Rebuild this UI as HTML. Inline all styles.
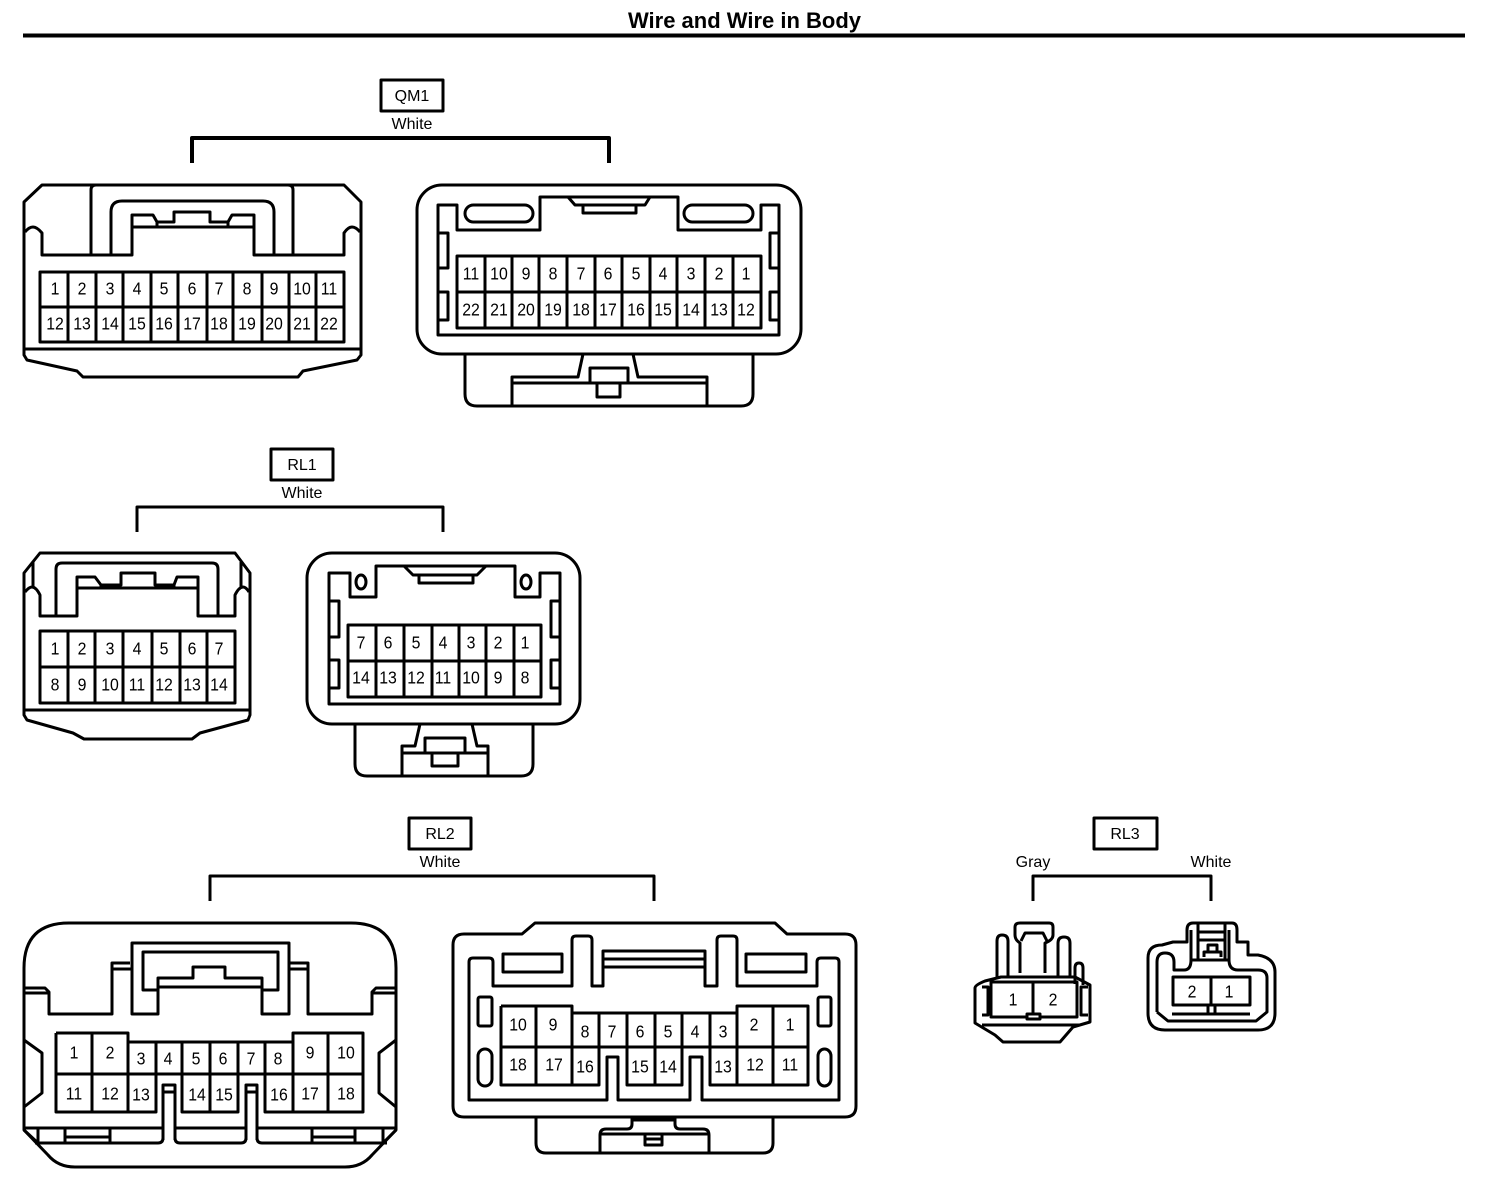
<!DOCTYPE html>
<html><head><meta charset="utf-8"><title>Wire and Wire in Body</title>
<style>
html,body{margin:0;padding:0;background:#fff}
svg{display:block}
path,rect,ellipse{fill:none;stroke:#000;stroke-width:3;stroke-linejoin:round}
text{font-family:"Liberation Sans",sans-serif;font-size:18px;fill:#000;text-anchor:middle;transform-box:fill-box;transform-origin:center;transform:translateY(.7px) scaleX(.88)}
.l{font-size:16px;transform:none}
.h{font-size:22px;font-weight:bold;transform:none}
</style></head><body>
<svg width="1504" height="1190" viewBox="0 0 1504 1190" xmlns="http://www.w3.org/2000/svg">
<text class="h" x="744.500" y="28">Wire and Wire in Body</text>
<path d="M23 35.500H1465" style="stroke-width:4"/>

<!-- labels -->
<rect x="381" y="80" width="62" height="31"/><text class="l" x="412" y="101">QM1</text><text class="l" x="412" y="129">White</text>
<path d="M192 163V138H609V163" style="stroke-width:4"/>
<rect x="271" y="449" width="62" height="31"/><text class="l" x="302" y="470">RL1</text><text class="l" x="302" y="498">White</text>
<path d="M137 532V507H443V532"/>
<rect x="409" y="818" width="62" height="31"/><text class="l" x="440" y="839">RL2</text><text class="l" x="440" y="867">White</text>
<path d="M210 901V876H654V901"/>
<rect x="1094" y="818" width="63" height="31"/><text class="l" x="1125" y="839">RL3</text><text class="l" x="1033" y="867">Gray</text><text class="l" x="1211" y="867">White</text>
<path d="M1033 901V876H1211V901"/>

<!-- QM1 left -->
<path d="M42 185H344L361 202V355L357 360L303 371L298 377H83L77 371L27 360L24 355V202Z"/>
<path d="M24 349H361"/>
<path d="M25 232Q29 227 33 227Q37 227 42 233V255H132V215H153L157 222H174V212H210V222H228L232 215H254V255H344V233Q348 227 352 227Q356 227 360 232"/>
<path d="M132 227H254M157 222V227M228 222V227"/>
<path d="M91 255V190Q91 185 96 185M293 255V190Q293 185 288 185"/>
<path d="M111 255V212Q111 201 122 201H263Q274 201 274 212V255"/>
<path d="M40 272H344V342H40ZM40 307H344M68 272V342M96 272V342M123 272V342M151 272V342M178 272V342M207 272V342M233 272V342M262 272V342M289 272V342M316 272V342"/>
<g>
<text x="55" y="294">1</text><text x="82" y="294">2</text><text x="110" y="294">3</text><text x="137" y="294">4</text><text x="164" y="294">5</text><text x="192" y="294">6</text><text x="219" y="294">7</text><text x="247" y="294">8</text><text x="274" y="294">9</text><text x="302" y="294">10</text><text x="329" y="294">11</text>
<text x="55" y="329">12</text><text x="82" y="329">13</text><text x="110" y="329">14</text><text x="137" y="329">15</text><text x="164" y="329">16</text><text x="192" y="329">17</text><text x="219" y="329">18</text><text x="247" y="329">19</text><text x="274" y="329">20</text><text x="302" y="329">21</text><text x="329" y="329">22</text>
</g>

<!-- QM1 right -->
<rect x="417" y="185" width="384" height="169" rx="25"/>
<path d="M465 354V394Q465 406 477 406H741Q753 406 753 394V354"/>
<path d="M438 205H457V230H540V197H678V230H761V205H779V335H438Z"/>
<rect x="465" y="205" width="68" height="17" rx="8.500"/><rect x="684" y="205" width="69" height="17" rx="8.500"/>
<path d="M568 197L575 205H645L650 197M583 205V213H636V205"/>
<path d="M438 233H448V268H438M438 292H448V320H438M779 233H770V268H779M779 292H770V320H779"/>
<path d="M457 256H761V328H457ZM457 292H761M485 256V328M512 256V328M539 256V328M567 256V328M595 256V328M622 256V328M650 256V328M677 256V328M705 256V328M733 256V328"/>
<g>
<text x="471" y="279">11</text><text x="499" y="279">10</text><text x="526" y="279">9</text><text x="553" y="279">8</text><text x="581" y="279">7</text><text x="608" y="279">6</text><text x="636" y="279">5</text><text x="663" y="279">4</text><text x="691" y="279">3</text><text x="719" y="279">2</text><text x="746" y="279">1</text>
<text x="471" y="315">22</text><text x="499" y="315">21</text><text x="526" y="315">20</text><text x="553" y="315">19</text><text x="581" y="315">18</text><text x="608" y="315">17</text><text x="636" y="315">16</text><text x="663" y="315">15</text><text x="691" y="315">14</text><text x="719" y="315">13</text><text x="746" y="315">12</text>
</g>
<path d="M512 406V377H578L583 354M633 354L638 377H707V406M512 383H590M628 383H707"/>
<path d="M590 368H628V383H590ZM597 383V397H620V383"/>

<!-- RL1 left -->
<path d="M40 553H235L250 573V715L248 720L200 733L192 739H84L73 733L27 720L24 715V573Z"/>
<path d="M24 710H250"/>
<path d="M25 592Q29 587 32 587Q36 587 40 595V616H77V577H95L101 585H121V573H155V585H174L177 577H198V616H235V595Q239 587 243 587Q246 587 249 592"/>
<path d="M77 588H198M101 585V588M174 585V588"/>
<path d="M56 616V569Q56 563 62 563H212Q218 563 218 569V616"/>
<path d="M33 587V562M241 587V562"/>
<path d="M40 631H235V703H40ZM40 667H235M68 631V703M95 631V703M123 631V703M152 631V703M180 631V703M207 631V703"/>
<g>
<text x="55" y="654">1</text><text x="82" y="654">2</text><text x="110" y="654">3</text><text x="137" y="654">4</text><text x="164" y="654">5</text><text x="192" y="654">6</text><text x="219" y="654">7</text>
<text x="55" y="690">8</text><text x="82" y="690">9</text><text x="110" y="690">10</text><text x="137" y="690">11</text><text x="164" y="690">12</text><text x="192" y="690">13</text><text x="219" y="690">14</text>
</g>

<!-- RL1 right -->
<rect x="307" y="553" width="273" height="171" rx="25"/>
<path d="M355 724V764Q355 776 367 776H521Q533 776 533 764V724"/>
<path d="M329 573H350V597H376V566H515V597H540V573H560V704H329Z"/>
<ellipse cx="361" cy="582" rx="5" ry="7"/><ellipse cx="526" cy="582" rx="5" ry="7"/>
<path d="M404 566L413 575H477L486 566M419 575V583H473V575"/>
<path d="M329 601H339V637H329M329 660H339V688H329M560 601H551V637H560M560 660H551V688H560"/>
<path d="M348 625H541V697H348ZM348 661H541M376 625V697M404 625V697M432 625V697M459 625V697M486 625V697M514 625V697"/>
<g>
<text x="361" y="648">7</text><text x="388" y="648">6</text><text x="416" y="648">5</text><text x="443" y="648">4</text><text x="471" y="648">3</text><text x="498" y="648">2</text><text x="525" y="648">1</text>
<text x="361" y="683">14</text><text x="388" y="683">13</text><text x="416" y="683">12</text><text x="443" y="683">11</text><text x="471" y="683">10</text><text x="498" y="683">9</text><text x="525" y="683">8</text>
</g>
<path d="M402 776V746H415L420 724M472 724L477 746H488V776M402 753H425M465 753H488"/>
<path d="M425 738H465V753H425ZM432 753V766H458V753"/>

<!-- RL2 left -->
<path d="M24 1130V968Q24 923 69 923H351Q396 923 396 968V1130L372 1155Q362 1167 345 1167H75Q58 1167 48 1155Z"/>
<path d="M24 988H45L49 992V1014H112V963H130M24 993H49M112 969H132"/>
<path d="M396 988H376L372 992V1014H308V963H290M396 993H372M308 969H289"/>
<path d="M132 1014V943H289V1014H262V978H225V967H193V978H158V1014Z"/>
<path d="M158 990H143V952H278V990H262M158 987H262"/>
<path d="M24 1040L42 1053V1093L24 1107M396 1040L379 1053V1093L396 1107"/>
<path d="M56 1033H128V1042H293V1033H363V1112H265V1074M56 1033V1112H156V1074M182 1074V1112H238V1074M56 1074H363M92 1033V1112M128 1033V1112M156 1042V1074M182 1042V1074M210 1042V1112M238 1042V1074M265 1042V1074M293 1033V1112M328 1033V1112"/>
<path d="M163 1140V1085H175V1140M246 1140V1085H257V1140M163 1092H175M246 1092H257"/>
<path d="M24 1128H163M175 1128H246M257 1128H396"/>
<path d="M35 1143H158Q163 1143 163 1138M175 1138Q175 1143 180 1143H241Q246 1143 246 1138M257 1138Q257 1143 262 1143H387"/>
<path d="M38 1128V1143M65 1128V1143M110 1128V1143M65 1137H110M312 1128V1143M355 1128V1143M312 1137H355M383 1128V1143M24 1130L38 1143M396 1130L383 1143"/>
<g>
<text x="74" y="1058">1</text><text x="110" y="1058">2</text><text x="141" y="1064">3</text><text x="168" y="1064">4</text><text x="196" y="1064">5</text><text x="223" y="1064">6</text><text x="251" y="1064">7</text><text x="278" y="1064">8</text><text x="310" y="1058">9</text><text x="346" y="1058">10</text>
<text x="74" y="1099">11</text><text x="110" y="1099">12</text><text x="141" y="1100">13</text><text x="197" y="1100">14</text><text x="224" y="1100">15</text><text x="279" y="1100">16</text><text x="310" y="1099">17</text><text x="346" y="1099">18</text>
</g>

<!-- RL2 right -->
<path d="M522 934L535 923H775L787 934H845Q856 934 856 945V1106Q856 1117 845 1117H464Q453 1117 453 1106V945Q453 934 464 934Z"/>
<path d="M536 1117V1143Q536 1153 546 1153H763Q773 1153 773 1143V1117"/>
<path d="M469 1100V962Q469 958 473 958H489Q493 958 493 962V986H572V940Q572 936 576 936H588Q592 936 592 940V986H603V951H705V986H717V940Q717 936 721 936H733Q737 936 737 940V986H817V962Q817 958 821 958H835Q839 958 839 962V1100H702V1057H690V1100H618V1057H607V1100Z"/>
<path d="M603 959H705M603 967H705"/>
<rect x="503" y="954" width="59" height="18"/><rect x="746" y="954" width="60" height="18"/>
<rect x="478" y="997" width="14" height="29" rx="2"/><rect x="818" y="997" width="13" height="29" rx="2"/>
<rect x="478" y="1049" width="14" height="37" rx="7"/><rect x="818" y="1049" width="13" height="37" rx="7"/>
<path d="M501 1006H572V1013H737V1006H808V1085H710V1047M501 1006V1085H599V1047M627 1047V1085H682V1047M501 1047H808M536 1006V1085M572 1006V1085M599 1013V1047M627 1013V1047M655 1013V1085M682 1013V1047M710 1013V1047M737 1006V1085M773 1006V1085"/>
<g>
<text x="518" y="1030">10</text><text x="553" y="1030">9</text><text x="585" y="1037">8</text><text x="612" y="1037">7</text><text x="640" y="1037">6</text><text x="668" y="1037">5</text><text x="695" y="1037">4</text><text x="723" y="1037">3</text><text x="754" y="1030">2</text><text x="790" y="1030">1</text>
<text x="518" y="1070">18</text><text x="554" y="1070">17</text><text x="585" y="1072">16</text><text x="640" y="1072">15</text><text x="668" y="1072">14</text><text x="723" y="1072">13</text><text x="755" y="1070">12</text><text x="790" y="1070">11</text>
</g>
<path d="M632 1117V1124Q632 1129 627 1129H606Q600 1129 600 1135V1153M675 1117V1124Q675 1129 680 1129H703Q709 1129 709 1135V1153M600 1134H709M632 1120H675"/>
<path d="M645 1134V1145H662V1134M645 1139H662"/>

<!-- RL3 left -->
<path d="M1020 973V943Q1015 940 1015 935V927Q1015 923 1020 923H1049Q1053 923 1053 927V935Q1053 940 1045 943V973" />
<path d="M1021 941L1025 933H1043L1047 941"/>
<path d="M997 977V941Q997 935 1002 935Q1008 935 1008 941V977M1058 977V943Q1058 937 1064 937Q1070 937 1070 943V977M1075 984V968Q1075 963 1079 963Q1083 963 1083 968V985"/>
<path d="M975 988Q975 985 985 981L1001 977H1075L1090 985V1022L1073 1027L1060 1042H1003L995 1035L975 1023Z"/>
<path d="M982 987H988V1015H982M1088 987H1081V1015H1088"/>
<path d="M991 982H1077V1017H991ZM1033 982V1017M982 1025H1080"/>
<rect x="1027" y="1014" width="13" height="5" style="fill:#fff"/>
<text x="1013" y="1005">1</text><text x="1053" y="1005">2</text>

<!-- RL3 right -->
<path d="M1148 1013V958Q1148 945 1162 945L1173 942H1187V930Q1187 923 1193 923H1232Q1237 923 1237 930V942H1248V955H1258Q1275 958 1275 972V1013Q1275 1030 1258 1030H1165Q1148 1030 1148 1013Z"/>
<path d="M1157 1012V962Q1157 953 1165 953Q1174 953 1174 962V970H1184Q1191 970 1191 960V930"/>
<path d="M1229 930V960Q1229 970 1238 970H1258Q1267 970 1267 978V1012L1256 1021H1168L1157 1012"/>
<path d="M1198 923V960M1225 923V960M1198 932H1225M1198 940H1225M1191 960H1229"/>
<path d="M1208 952V945H1217V952M1204 957V952H1221V957"/>
<path d="M1173 977H1250V1005H1173ZM1211 977V1005"/>
<path d="M1208 1005V1014H1215V1005M1172 1014H1250"/>
<text x="1192" y="997">2</text><text x="1229" y="997">1</text>
</svg>
</body></html>
